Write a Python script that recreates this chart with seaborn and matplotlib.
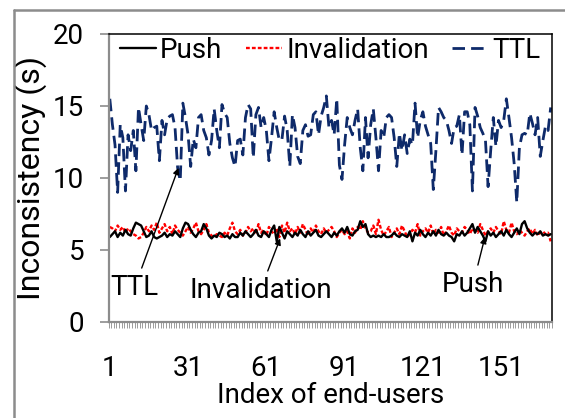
import numpy as np
import pandas as pd
import seaborn as sns
import matplotlib
matplotlib.use("Agg")
import matplotlib.pyplot as plt
from matplotlib.lines import Line2D

# Per-user inconsistency (seconds) for the three consistency schemes
ttl = [
    15.5, 13.7, 12.3, 9.0, 13.7, 12.8, 9.1, 13.0, 11.9, 13.3,
    10.5, 14.9, 13.7, 12.6, 15.0, 14.4, 13.3, 13.5, 13.6, 11.2,
    14.0, 13.0, 14.1, 14.3, 14.4, 13.5, 10.7, 9.8, 15.2, 14.2,
    13.0, 10.8, 12.7, 12.1, 14.2, 14.4, 13.3, 12.8, 11.6, 12.6,
    14.8, 13.3, 12.1, 15.1, 14.5, 14.2, 12.4, 11.4, 10.8, 12.6,
    12.7, 11.6, 14.2, 15.1, 14.8, 11.4, 14.4, 14.9, 13.5, 14.2,
    13.3, 11.2, 12.8, 14.6, 13.5, 12.6, 12.7, 14.3, 13.3, 10.8,
    14.4, 13.5, 11.5, 11.0, 13.3, 13.7, 12.9, 13.0, 14.4, 14.6,
    13.0, 14.3, 14.9, 15.7, 13.5, 14.0, 13.0, 15.5, 10.9, 9.9,
    12.3, 14.2, 13.5, 13.0, 14.0, 14.8, 12.1, 10.5, 14.2, 11.4,
    13.7, 14.8, 12.8, 10.5, 13.3, 12.8, 14.2, 14.4, 14.2, 12.8,
    10.8, 13.1, 11.9, 13.0, 11.7, 12.7, 12.3, 15.2, 12.8, 14.0,
    14.6, 13.6, 13.0, 12.4, 9.2, 11.9, 14.9, 14.6, 14.2, 14.0,
    13.3, 12.4, 13.5, 13.6, 14.4, 11.6, 14.6, 14.6, 13.7, 9.1,
    14.9, 14.3, 13.5, 13.1, 12.6, 9.4, 11.9, 14.2, 12.2, 14.0,
    13.5, 14.0, 15.5, 14.2, 12.8, 11.0, 8.3, 12.1, 13.0, 13.1,
    13.0, 14.5, 13.8, 13.0, 14.2, 11.5, 12.6, 13.6, 13.3, 14.9,
]

push = [
    5.9, 6.1, 6.3, 5.9, 6.2, 6.0, 6.4, 6.1, 6.0, 6.5,
    6.9, 6.8, 6.7, 6.3, 5.9, 6.0, 6.3, 5.9, 5.8, 5.9,
    6.0, 6.2, 5.9, 6.1, 6.0, 6.3, 6.1, 5.9, 6.5, 6.9,
    6.8, 6.4, 6.1, 5.9, 6.2, 6.3, 6.8, 6.5, 6.0, 5.8,
    6.0, 5.9, 6.2, 6.1, 5.9, 6.0, 5.8, 6.1, 5.9, 5.9,
    6.2, 6.0, 6.3, 6.1, 5.9, 6.1, 6.4, 6.0, 5.9, 6.3,
    6.1, 5.9, 6.4, 6.7, 5.6, 6.6, 6.2, 5.8, 6.3, 6.1,
    5.9, 6.2, 6.0, 6.4, 6.1, 5.9, 6.3, 6.0, 6.2, 6.4,
    6.0, 5.9, 6.1, 6.3, 6.1, 5.9, 6.2, 6.0, 6.3, 6.5,
    6.2, 6.6, 6.1, 6.0, 6.3, 6.4, 7.0, 6.6, 6.8, 6.1,
    5.9, 6.0, 5.9, 6.0, 5.9, 6.1, 5.9, 5.9, 6.0, 6.2,
    6.0, 5.9, 6.1, 6.0, 5.9, 6.3, 5.6, 6.2, 6.0, 6.4,
    6.1, 5.9, 6.2, 6.0, 6.3, 6.0, 6.4, 6.1, 6.0, 6.2,
    6.0, 5.9, 5.6, 6.1, 6.0, 6.3, 6.0, 6.2, 6.5, 6.8,
    6.2, 6.6, 6.3, 6.0, 5.6, 6.3, 6.0, 6.2, 5.9, 6.1,
    6.3, 6.0, 6.4, 6.1, 5.9, 6.2, 6.5, 6.1, 6.8, 7.0,
    6.5, 6.2, 6.0, 6.2, 6.1, 6.3, 6.0, 6.1, 6.0, 6.1,
]

invalidation = [
    6.6, 6.5, 6.3, 6.7, 6.4, 6.6, 6.2, 6.5, 6.3, 6.1,
    6.0, 5.8, 5.9, 6.2, 6.6, 6.3, 6.7, 6.4, 6.9, 6.2,
    6.5, 6.8, 6.3, 6.6, 6.1, 6.7, 6.4, 6.2, 6.0, 6.3,
    6.6, 6.2, 6.5, 6.9, 6.3, 6.1, 6.4, 6.8, 6.2, 6.0,
    5.9, 6.1, 6.0, 5.9, 6.2, 6.0, 6.5, 6.9, 6.3, 6.1,
    6.4, 6.0, 6.2, 6.6, 6.3, 6.5, 6.1, 6.8, 6.2, 6.4,
    6.0, 6.6, 6.3, 6.1, 6.5, 5.9, 6.7, 6.2, 6.9, 6.3,
    6.5, 6.1, 6.6, 6.2, 6.8, 6.4, 6.0, 6.5, 6.2, 6.7,
    6.3, 6.1, 6.5, 6.2, 6.4, 6.6, 6.3, 5.9, 6.2, 6.4,
    6.1, 6.3, 5.8, 6.5, 6.2, 6.6, 6.4, 7.0, 6.5, 6.2,
    6.3, 6.7, 6.1, 7.1, 6.4, 6.0, 6.3, 6.6, 5.9, 6.2,
    6.5, 6.1, 6.7, 6.3, 5.9, 6.1, 6.4, 6.2, 6.8, 6.0,
    6.3, 6.5, 6.2, 6.7, 6.1, 6.4, 6.2, 6.6, 6.0, 6.3,
    6.7, 6.2, 6.0, 6.5, 6.3, 6.2, 6.6, 6.4, 6.1, 6.5,
    6.3, 6.2, 6.8, 6.4, 6.0, 6.3, 6.5, 6.2, 6.6, 6.3,
    6.1, 7.0, 6.4, 6.2, 6.9, 6.3, 6.1, 6.4, 6.2, 6.0,
    6.3, 6.5, 6.1, 6.4, 6.0, 6.2, 6.3, 6.1, 6.2, 5.6,
]

users = np.arange(1, len(push) + 1)
x_tick_labels = [1, 31, 61, 91, 121, 151]
y_ticks = [0, 5, 10, 15, 20]

df = pd.DataFrame({"user": users, "Push": push,
                   "Invalidation": invalidation, "TTL": ttl})

sns.set_style("white")
plt.rcParams["font.family"] = ["Roboto", "DejaVu Sans"]
plt.rcParams["font.size"] = 20
plt.rcParams["text.color"] = "black"
plt.rcParams["axes.labelcolor"] = "black"
plt.rcParams["xtick.labelcolor"] = "black"
plt.rcParams["ytick.labelcolor"] = "black"

W, H, DPI = 565, 418, 100
fig = plt.figure(figsize=(W / DPI, H / DPI), dpi=DPI)
ax = fig.add_axes([108.5 / W, 1 - 322 / H, (552 - 108.5) / W, (322 - 34) / H])

navy = "#0E2A6A"
gray = "#8C8C8C"

sns.lineplot(data=df, x="user", y="TTL", ax=ax, color=navy, lw=2.0,
             linestyle=(0, (4.5, 2.2)), label="TTL")
sns.lineplot(data=df, x="user", y="Invalidation", ax=ax, color="#FF0000",
             lw=1.7, linestyle=(0, (1.6, 0.9)), label="Invalidation")
sns.lineplot(data=df, x="user", y="Push", ax=ax, color="black", lw=1.7,
             label="Push")

ax.set_xlim(0.5, len(users) + 0.5)
ax.set_ylim(0, 20)

# axis lines: gray left/bottom, black plot-area border top/right
for side in ("left", "bottom"):
    ax.spines[side].set_color(gray)
    ax.spines[side].set_linewidth(1.6)
for side in ("top", "right"):
    ax.spines[side].set_color("black")
    ax.spines[side].set_linewidth(1.1)
    ax.spines[side].set_visible(True)

ax.set_yticks(y_ticks)
ax.set_yticklabels([str(v) for v in y_ticks])
ax.tick_params(axis="y", which="major", direction="out", length=6.5,
               width=1.2, color=gray, pad=11, left=True, labelsize=20,
               labelcolor="black")

ax.set_xticks(x_tick_labels)
ax.set_xticklabels([str(v) for v in x_tick_labels])
ax.set_xticks(np.arange(0.5, len(users) + 1, 1.0), minor=True)
ax.tick_params(axis="x", which="major", length=0, pad=24, labelsize=20,
               labelcolor="black")
ax.tick_params(axis="x", which="minor", direction="out", length=4.5,
               width=0.6, color=gray, bottom=True)

ax.set_xlabel("Index of end-users", fontsize=20, color="black")
ax.xaxis.set_label_coords(0.5, -0.21)
ax.set_ylabel("Inconsistency (s)", fontsize=23, color="black")
ax.yaxis.set_label_coords(-0.139, 0.5)

handles, labels = ax.get_legend_handles_labels()
order = [labels.index(n) for n in ("Push", "Invalidation", "TTL")]
leg = ax.legend([handles[i] for i in order], [labels[i] for i in order],
                loc="upper center", bbox_to_anchor=(0.5, 1.0), ncol=3,
                frameon=False, fontsize=20, handlelength=1.3,
                handletextpad=0.15, columnspacing=0.85, borderaxespad=0,
                borderpad=0.1)
for t in leg.get_texts():
    t.set_color("black")

arrow = dict(arrowstyle="-|>", color="black", lw=1.0, mutation_scale=9,
             shrinkA=2, shrinkB=0)
ax.annotate("TTL", xy=(27.3, 10.7), xytext=(10.5, 2.4), ha="center",
            va="center", fontsize=20, color="black", arrowprops=arrow)
ax.annotate("Invalidation", xy=(66.3, 5.8), xytext=(58.7, 2.2), ha="center",
            va="center", fontsize=20, color="black", arrowprops=arrow)
ax.annotate("Push", xy=(144.8, 5.9), xytext=(140.2, 2.6), ha="center",
            va="center", fontsize=20, color="black", arrowprops=arrow)

# outer chart-area frame
fig.add_artist(Line2D([14 / W, 14 / W], [0, 1 - 10 / H], color=gray, lw=1.8))
fig.add_artist(Line2D([14 / W, 1], [1 - 10 / H, 1 - 10 / H], color=gray, lw=1.8))

fig.savefig("out.png", dpi=DPI)
